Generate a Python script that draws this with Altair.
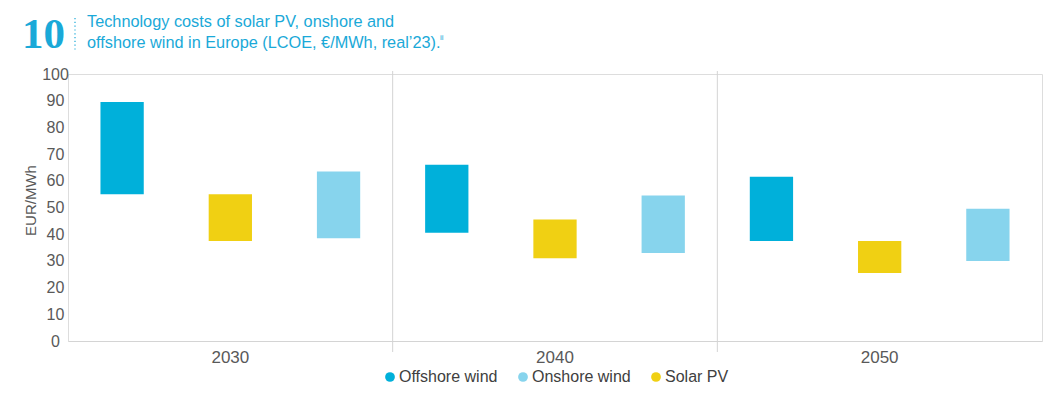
import altair as alt
import pandas as pd

years = ["2030", "2040", "2050"]
techs = ["Offshore wind", "Solar PV", "Onshore wind"]
low_2030 = [55, 37.5, 38.5]
high_2030 = [89.5, 55, 63.5]
low_2040 = [40.5, 31, 33]
high_2040 = [66, 45.5, 54.5]
low_2050 = [37.5, 25.5, 30]
high_2050 = [61.5, 37.5, 49.5]
divider_years = ["2040", "2050"]
y_ticks = [0, 10, 20, 30, 40, 50, 60, 70, 80, 90, 100]

legend_order = ["Offshore wind", "Onshore wind", "Solar PV"]
legend_colors = ["#00b0da", "#87d4ed", "#f0d013"]

rows = []
for yr, lo, hi in zip(years, [low_2030, low_2040, low_2050], [high_2030, high_2040, high_2050]):
    for t, l, h in zip(techs, lo, hi):
        rows.append({"year": yr, "tech": t, "low": l, "high": h})
df = pd.DataFrame(rows)

FONT = "Liberation Sans"
CYAN = "#1aa9d8"
GRAY = "#595959"

x_axis = alt.Axis(title=None, ticks=False, tickOpacity=0, grid=False, domainColor="#d4d4d4",
                  labelFontSize=17, labelColor=GRAY, labelPadding=8,
                  labelFont=FONT, labelAngle=0, labelAlign="center",
                  labelBaseline="top")
x_scale = alt.Scale(paddingInner=0, paddingOuter=0)

bars = alt.Chart(df).mark_bar().encode(
    x=alt.X("year:N", sort=years, scale=x_scale, axis=x_axis),
    xOffset=alt.XOffset("tech:N", sort=techs,
                        scale=alt.Scale(paddingInner=0.6, paddingOuter=0.3)),
    y=alt.Y("low:Q", scale=alt.Scale(domain=[0, 100], nice=False),
            axis=alt.Axis(values=y_ticks, grid=False, domain=False, ticks=False, tickSize=0,
                          labelFontSize=16, labelColor=GRAY, labelFont=FONT,
                          labelAlign="center", labelPadding=13,
                          title="EUR/MWh", titleFont=FONT, titleFontSize=15,
                          titleFontWeight="normal", titleColor=GRAY,
                          titleAngle=270, titleX=-38, titleY=126,
                          titleAlign="center", titleBaseline="middle")),
    y2="high:Q",
    color=alt.Color("tech:N",
                    scale=alt.Scale(domain=legend_order, range=legend_colors),
                    legend=alt.Legend(title=None, orient="none", legendX=314, legendY=295,
                                      direction="horizontal", symbolType="circle",
                                      symbolSize=95, symbolStrokeWidth=0,
                                      labelFontSize=16, labelColor="#404040",
                                      labelFont=FONT, columnPadding=17, padding=0,
                                      labelOffset=1)),
)

dividers = alt.Chart(pd.DataFrame({"year": divider_years})).mark_rule(
    color="#d4d4d4", strokeWidth=1
).encode(
    x=alt.X("year:N", sort=years, bandPosition=0, scale=x_scale, axis=x_axis),
    y=alt.value(-3),
    y2=alt.value(278),
)

num = alt.Chart(pd.DataFrame({"t": ["10"]})).mark_text(
    font="Liberation Serif", fontSize=43, fontWeight="bold", color=CYAN,
    align="left", baseline="alphabetic"
).encode(text="t:N", x=alt.value(-46), y=alt.value(-26))

dots = alt.Chart(pd.DataFrame({"t": ["a"]})).mark_rule(
    color=CYAN, strokeWidth=1.2, strokeDash=[1.2, 2.6]
).encode(x=alt.value(7), y=alt.value(-56), y2=alt.value(-24))

title_lines = ["Technology costs of solar PV, onshore and",
               "offshore wind in Europe (LCOE, €/MWh, real\u201923)."]
t1 = alt.Chart(pd.DataFrame({"t": [title_lines[0]]})).mark_text(
    font=FONT, fontSize=16.3, color=CYAN, align="left", baseline="middle"
).encode(text="t:N", x=alt.value(19), y=alt.value(-52))
t2 = alt.Chart(pd.DataFrame({"t": [title_lines[1]]})).mark_text(
    font=FONT, fontSize=16.3, color=CYAN, align="left", baseline="middle"
).encode(text="t:N", x=alt.value(19), y=alt.value(-31))
sup = alt.Chart(pd.DataFrame({"t": ["ii"]})).mark_text(
    font=FONT, fontSize=8, color=CYAN, align="left", baseline="middle"
).encode(text="t:N", x=alt.value(372), y=alt.value(-36))

chart = alt.layer(bars, dividers, num, dots, t1, t2, sup).properties(
    width=974, height=267,
    autosize=alt.AutoSizeParams(type="none"),
    padding={"left": 60, "top": 66, "right": 8, "bottom": 49},
).configure_view(stroke=None).configure(font=FONT)

chart.save("out.html", embed_options={"renderer": "svg", "actions": False})
